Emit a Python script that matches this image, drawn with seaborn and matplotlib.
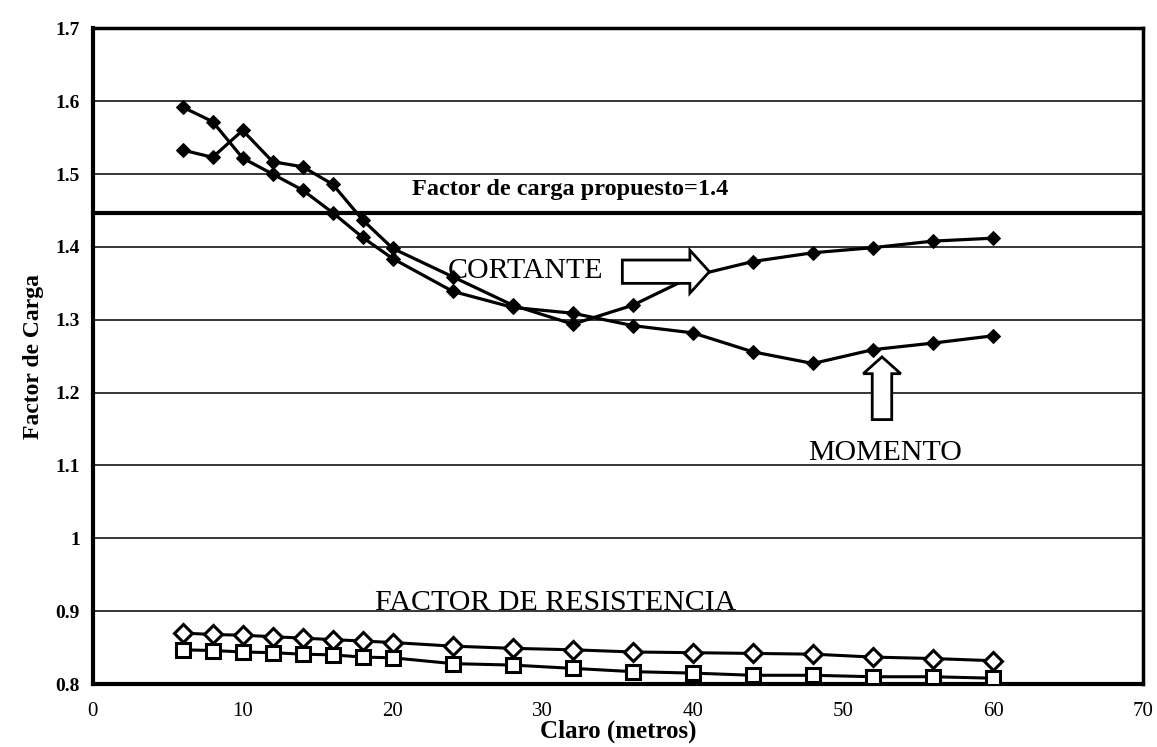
import numpy as np
import pandas as pd
import matplotlib
matplotlib.use('Agg')
import matplotlib.pyplot as plt
import seaborn as sns
from matplotlib.patches import FancyArrow

# datos
claro = [6, 8, 10, 12, 14, 16, 18, 20, 24, 28, 32, 36, 40, 44, 48, 52, 56, 60]
cortante = [1.533, 1.523, 1.560, 1.517, 1.510, 1.486, 1.437, 1.398, 1.359, 1.320,
            1.294, 1.320, 1.360, 1.380, 1.392, 1.399, 1.408, 1.412]
momento = [1.592, 1.572, 1.522, 1.500, 1.478, 1.447, 1.413, 1.384, 1.339, 1.317,
           1.309, 1.292, 1.282, 1.256, 1.240, 1.259, 1.268, 1.278]
resist_rombo = [0.870, 0.868, 0.867, 0.865, 0.863, 0.861, 0.859, 0.857, 0.852, 0.849,
                0.847, 0.844, 0.843, 0.842, 0.841, 0.837, 0.835, 0.832]
resist_cuadro = [0.847, 0.846, 0.844, 0.843, 0.841, 0.840, 0.837, 0.836, 0.828, 0.826,
                 0.8215, 0.817, 0.815, 0.812, 0.812, 0.810, 0.810, 0.808]
factor_propuesto = 1.446

y_ticks = [0.8, 0.9, 1.0, 1.1, 1.2, 1.3, 1.4, 1.5, 1.6, 1.7]
y_tick_labels = ['0.8', '0.9', '1', '1.1', '1.2', '1.3', '1.4', '1.5', '1.6', '1.7']
x_ticks = [0, 10, 20, 30, 40, 50, 60, 70]

sns.set_style('white')
plt.rcParams['font.family'] = ['Liberation Serif', 'DejaVu Serif']
plt.rcParams.update({
    'text.color': 'black',
    'axes.labelcolor': 'black',
    'xtick.color': 'black',
    'ytick.color': 'black',
})

fig = plt.figure(figsize=(11.57, 7.47), dpi=100)
ax = fig.add_axes([0.080, 0.0843, 0.908, 0.8777])

# lineas de carga (rombos llenos)
for serie in [cortante, momento]:
    sns.lineplot(x=claro, y=serie, ax=ax, color='black', lw=2.3, marker='D',
                 markersize=7, markerfacecolor='black', markeredgecolor='black', zorder=4)

# factor de resistencia (marcadores abiertos)
sns.lineplot(x=claro, y=resist_rombo, ax=ax, color='black', lw=2.2, marker='D',
             markersize=9, markerfacecolor='white', markeredgecolor='black',
             markeredgewidth=2.2, zorder=4)
sns.lineplot(x=claro, y=resist_cuadro, ax=ax, color='black', lw=2.2, marker='s',
             markersize=10, markerfacecolor='white', markeredgecolor='black',
             markeredgewidth=2.2, zorder=4)

ax.axhline(factor_propuesto, color='black', lw=3, zorder=3)

ax.set_xlim(0, 70)
ax.set_ylim(0.8, 1.7)
ax.set_xticks(x_ticks)
ax.set_yticks(y_ticks)
ax.set_yticklabels(y_tick_labels, fontweight='bold', fontsize=14)
ax.set_xticklabels([str(t) for t in x_ticks], fontsize=15)
ax.yaxis.grid(True, color='black', lw=1.1)
ax.xaxis.grid(False)
ax.set_axisbelow(True)
ax.tick_params(axis='both', direction='out', length=4, width=1.5, color='black')
ax.tick_params(axis='x', pad=9)
ax.tick_params(axis='y', pad=5)

for lado, ancho in [('left', 3), ('bottom', 3), ('top', 2.5), ('right', 2.5)]:
    ax.spines[lado].set_color('black')
    ax.spines[lado].set_linewidth(ancho)

ax.set_xlabel('Claro (metros)', fontsize=18, fontweight='bold', labelpad=-1)
ax.set_ylabel('Factor de Carga', fontsize=17, fontweight='bold', labelpad=8)

# textos
ax.text(21.3, 1.471, 'Factor de carga propuesto=1.4', fontsize=17.5, fontweight='bold',
        ha='left', va='baseline')
ax.text(23.7, 1.358, 'CORTANTE', fontsize=21.5, ha='left', va='baseline')
ax.text(47.7, 1.108, 'MOMENTO', fontsize=21.5, ha='left', va='baseline')
ax.text(18.8, 0.901, 'FACTOR DE RESISTENCIA', fontsize=21.5, ha='left', va='baseline')

# flechas de bloque
ax.add_patch(FancyArrow(35.3, 1.366, 5.8, 0, width=0.032, head_width=0.059,
                        head_length=1.3, length_includes_head=True,
                        facecolor='white', edgecolor='black', lw=2, zorder=5))
ax.add_patch(FancyArrow(52.6, 1.163, 0, 0.086, width=1.3, head_width=2.5,
                        head_length=0.023, length_includes_head=True,
                        facecolor='white', edgecolor='black', lw=2, zorder=5))

fig.savefig('out.png', dpi=100)
